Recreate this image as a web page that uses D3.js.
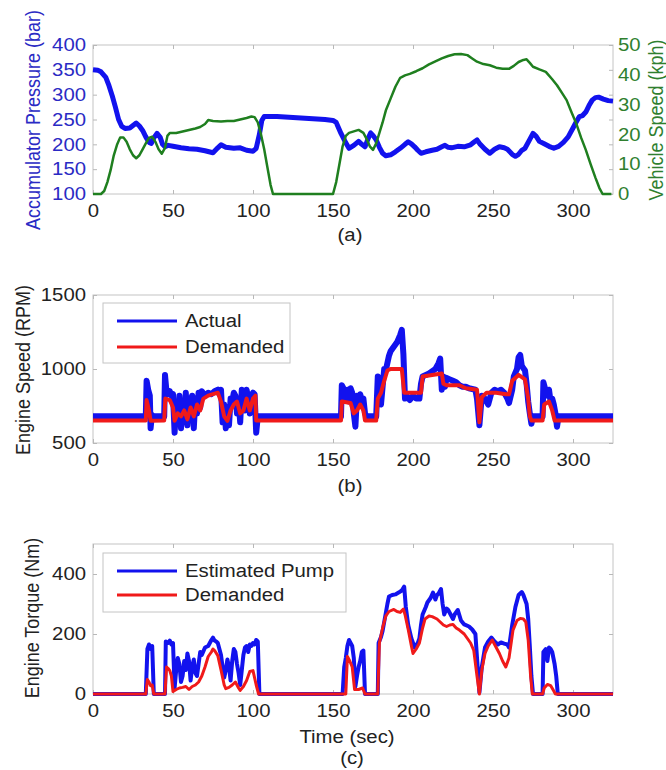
<!DOCTYPE html>
<html>
<head>
<meta charset="utf-8">
<script src="https://cdn.jsdelivr.net/npm/d3@7"></script>
<style>
  body { margin: 0; background: #fff; }
  text { font-family: "Liberation Sans", Arial, Helvetica, sans-serif; }
</style>
</head>
<body>
<svg width="666" height="770"></svg>
<script>
// ---- data (time in sec, value) ----
var pressure = [[0,350],[3,349],[5,346],[8,335],[10,318],[12,298],[14,275],[16,250],[18,236],[20,232],[23,233],[25,238],[27,243],[29,237],[31,228],[33,215],[35,204],[36.5,202],[38,213],[40,222],[42,214],[43.5,200],[45,195],[47,198],[50,196],[55,193],[60,191],[65,190],[70,187],[75,183],[78,193],[80,199],[83,194],[88,192],[92,193],[96,188],[100,186],[102,192],[104,220],[105.5,248],[107,256],[115,256],[125,254],[135,252],[145,250],[150,248],[152,244],[155,222],[158,203],[160,192],[163,198],[166,206],[168,200],[170,195],[172,212],[173.5,223],[175,218],[177,209],[179,194],[181,182],[183,177],[186,179],[189,185],[192,192],[195,200],[197,205],[199,201],[201,195],[203,188],[205,182],[208,185],[212,188],[215,190],[218,195],[220,198],[222,194],[224,193],[228,196],[232,195],[236,199],[238,204],[240,209],[242,200],[245,190],[248,182],[251,190],[254,195],[257,193],[259,190],[262,180],[264,176],[266,180],[268,188],[270,192],[273,210],[275,222],[277,216],[279,206],[282,201],[285,196],[288,192],[291,196],[294,204],[297,215],[300,233],[302,245],[304,256],[306,258],[308,265],[310,278],[312,289],[314,294],[316,295],[319,291],[322,288],[325,287]];

var vehicleSpeed = [[0,0],[5,0],[7,1],[9,4],[11,8],[13,13],[15,16.5],[17,19],[19,19],[21,17.5],[23,15],[25,13],[27,12],[29,13],[31,15],[33,17],[35,18.8],[37,19.2],[39,17.5],[41,15],[43,13.5],[45,15.5],[46.5,19.5],[48,20.5],[52,20.5],[56,21],[60,21.5],[64,22],[67,22.5],[70,23.5],[72,24.8],[75,24.5],[80,24.3],[84,24.5],[88,24.5],[92,25],[96,25.5],[99,26],[101,25.8],[103,24],[105,20],[107,15],[109,9],[111,3],[112.5,0],[150,0],[152,4],[154,10],[156,16],[158,19.5],[160,20.5],[163,21],[166,21.5],[169,20.5],[171,18.5],[173,16],[175,14.8],[177,17],[179,20.5],[181,24],[183,28],[186,32],[189,36],[192,39],[195,39.8],[198,40.3],[202,41.2],[206,42.2],[210,43.5],[214,44.5],[218,45.5],[222,46.3],[226,46.9],[230,47],[234,46.6],[237,45.5],[240,44.4],[244,43.6],[248,43.2],[252,42.4],[256,42],[260,42],[263,43],[266,44.3],[269,45],[271,45.2],[273,44],[275,42.7],[279,41.8],[283,41],[287,38.5],[290,36.5],[293,34],[296,31.5],[299,27.5],[302,23.7],[305,19],[308,14.8],[311,10],[314,5.5],[316.5,2],[318.5,0],[324,0]];

var rpmActual = [[0,680],[33,680],[33.5,920],[34.5,860],[35.5,820],[36,600],[36.8,690],[37.5,680],[44.5,680],[45,960],[46,840],[47,830],[48,850],[49,820],[50,830],[51,570],[52,760],[53,640],[54,820],[55,600],[56,780],[57,640],[58,840],[59,620],[60,800],[61,660],[62,820],[63,600],[64,800],[65,700],[66,840],[67,740],[68,850],[70,820],[72,840],[74,830],[76,850],[78,860],[79,830],[80,860],[81,640],[82,760],[83,600],[84,740],[85,620],[86,800],[87,780],[88,840],[89,820],[90,700],[91,780],[92,640],[93,860],[94,850],[95,720],[96,860],[97,800],[98,700],[99,820],[100,840],[101,830],[102,570],[103,680],[155,680],[155.5,890],[157,860],[158,800],[159,860],[160,780],[161,870],[162,840],[163,700],[164,610],[165,820],[166,760],[167,830],[168,790],[169,800],[170,700],[171,680],[177,680],[178,950],[179,800],[180,760],[181,880],[182,1000],[183,990],[185,1090],[186,1120],[188,1150],[190,1180],[192,1230],[193,1265],[194,1100],[195,800],[196,820],[198,790],[200,820],[202,800],[204,800],[205,900],[206,950],[208,960],[210,970],[212,985],[214,1000],[216,1040],[217,1070],[218,860],[219,950],[220,880],[221,940],[223,930],[225,920],[227,910],[229,890],[231,880],[233,880],[235,870],[237,865],[239,860],[240,800],[241.5,620],[243,820],[245,800],[247,760],[249,840],[251,860],[253,850],[255,860],[257,840],[259,800],[260,770],[262,860],[263,950],[265,1000],[266,1080],[267,1095],[268,1020],[270,990],[271,900],[272,780],[273,700],[274,630],[275,680],[281,680],[281.5,910],[283,850],[284,820],[285,860],[286,780],[287,800],[288,760],[289,700],[290,610],[291,680],[325,680]];

var rpmDemanded = [[0,652],[33,652],[33.5,790],[35,720],[36,650],[44.5,652],[45.2,800],[48,790],[50,740],[51,650],[53,700],[55,680],[57,720],[59,660],[61,740],[63,680],[65,760],[67,720],[69,800],[72,820],[75,830],[78,840],[80,780],[82,680],[84,650],[86,720],[88,760],[90,780],[92,700],[94,720],[96,800],[98,720],[100,800],[101.5,820],[102,652],[155,652],[155.5,780],[161,770],[163,700],[165,720],[167,760],[169,720],[170,652],[177,652],[178,800],[180,840],[182,920],[184,990],[186,1000],[193,1000],[194.5,840],[205,840],[206,950],[218,970],[219,900],[221,890],[229,890],[233,870],[240,860],[241.5,640],[243,810],[246,840],[252,840],[258,830],[260,830],[262,920],[266,960],[270,930],[272,800],[273,680],[274,652],[281,652],[282,760],[285,780],[287,720],[288.5,652],[325,652]];

var torquePump = [[0,0],[33,0],[34,150],[35,165],[36,150],[37,160],[38,0],[45,0],[45.5,175],[47,170],[48,178],[49,165],[50,170],[51,20],[52,80],[53,120],[54,100],[55,40],[56,60],[57,110],[58,80],[59,135],[60,110],[61,45],[62,90],[63,115],[64,70],[65,60],[66,100],[67,140],[68,130],[70,155],[72,160],[73,170],[74,180],[75,188],[76,178],[77,175],[78,170],[79,150],[80,130],[81,90],[82,55],[83,80],[84,115],[85,90],[86,45],[87,110],[88,150],[89,140],[90,100],[91,70],[92,30],[93,80],[94,130],[95,155],[96,160],[97,140],[98,165],[99,160],[100,170],[101,165],[102,180],[103,175],[104,0],[156,0],[157,90],[158,120],[159,160],[160,180],[161,170],[162,160],[163,120],[164,25],[165,60],[166,90],[167,110],[168,140],[169,145],[170,0],[178,0],[178.5,170],[180,190],[181,210],[182,240],[183,270],[184,300],[185,325],[187,330],[189,332],[191,338],[193,345],[194.5,358],[195.5,290],[197,230],[199,185],[201,155],[203,170],[204,185],[205,230],[206,265],[208,290],[209,305],[211,320],[212.5,338],[214,315],[215,330],[216,335],[217.5,350],[218.5,300],[219.5,265],[221,285],[222,280],[224,260],[225,250],[226,265],[228,280],[230,245],[232,232],[235,225],[237,215],[239,200],[240,120],[241.5,5],[243,90],[245,155],[247,175],[249,188],[251,175],[253,165],[255,172],[257,168],[259,165],[260,155],[262,230],[264,290],[266,330],[268,340],[269,330],[271,300],[272,250],[273,160],[274,60],[275,0],[281,0],[281.5,140],[283,150],[284,110],[285,155],[286,150],[287,140],[288.5,100],[289.5,60],[290.5,0],[325,0]];

var torqueDemanded = [[0,0],[33,0],[34,48],[35,40],[36,28],[37,30],[38,0],[45,0],[46,90],[47,85],[48,78],[49,60],[50,8],[52,15],[54,20],[56,22],[58,25],[60,15],[62,25],[64,30],[66,40],[68,60],[70,90],[72,125],[74,140],[75,150],[76,145],[78,128],[80,80],[82,30],[83,18],[85,22],[87,30],[89,40],[91,20],[92,12],[94,25],[96,45],[98,75],[100,78],[102,30],[103.5,0],[158,0],[159,125],[160.5,110],[162,90],[163.5,15],[166,15],[168.5,20],[170,0],[178,0],[179,170],[181,220],[183,260],[185,275],[188,282],[190,275],[192,272],[194,283],[195,265],[197,215],[199,160],[200,135],[202,150],[204,170],[206,220],[207.5,250],[210,260],[212,258],[215,250],[217,240],[219,230],[221,225],[223,230],[225,232],[227,220],[229,213],[232,200],[234,185],[236,170],[238,145],[240,60],[241.5,0],[243,80],[245,135],[247,160],[249.5,180],[252,155],[254,135],[256,110],[258,90],[260,120],[262.5,213],[265,245],[267,252],[269,250],[270.5,240],[272,180],[273.5,60],[274.6,0],[281,0],[282,20],[284,32],[286,28],[288,10],[289,0],[325,0]];

var timeTicks = [0, 50, 100, 150, 200, 250, 300];
var pressureTicks = [100, 150, 200, 250, 300, 350, 400];
var speedTicks = [0, 10, 20, 30, 40, 50];
var rpmTicks = [500, 1000, 1500];
var torqueTicks = [0, 200, 400];

// ---- layout ----
var fs = 18, sx = 1.13;
var blue = '#1212ee', red = '#f01a1a', green = '#1f7f1f';
var blueText = '#2a2ac4', greenText = '#2f7f2f';
var fmt = d3.format('d');
var svg = d3.select('svg');

var x = d3.scaleLinear().domain([0, 325]).range([93, 613]);

function styleText(sel, color) {
  sel.style('font-size', fs + 'px').attr('fill', color);
}

function panel(top, bottom, y, yTicks, tickColor) {
  svg.append('rect')
    .attr('x', x.range()[0]).attr('y', top)
    .attr('width', x.range()[1] - x.range()[0]).attr('height', bottom - top)
    .attr('fill', 'none').attr('stroke', '#c4c4c4').attr('stroke-width', 1);

  var gb = svg.append('g').attr('transform', 'translate(0,' + bottom + ')')
    .call(d3.axisBottom(x).tickValues(timeTicks).tickSize(-4).tickSizeOuter(0).tickFormat(fmt));
  var gt = svg.append('g').attr('transform', 'translate(0,' + top + ')')
    .call(d3.axisTop(x).tickValues(timeTicks).tickSize(-4).tickSizeOuter(0).tickFormat(''));
  var gl = svg.append('g').attr('transform', 'translate(' + x.range()[0] + ',0)')
    .call(d3.axisLeft(y).tickValues(yTicks).tickSize(-4).tickSizeOuter(0).tickFormat(fmt));
  var gr = svg.append('g').attr('transform', 'translate(' + x.range()[1] + ',0)')
    .call(d3.axisRight(y).tickValues(yTicks).tickSize(-4).tickSizeOuter(0).tickFormat(''));

  [gb, gt, gl, gr].forEach(g => {
    g.attr('font-size', null).attr('font-family', null);
    g.select('.domain').remove();
    g.selectAll('line').attr('stroke', '#b8b8b8');
  });
  gb.selectAll('text').attr('y', 23).attr('dy', 0)
    .attr('transform', 'scale(' + sx + ',1)').call(styleText, '#222');
  gl.selectAll('text').attr('x', -7 / sx)
    .attr('transform', 'scale(' + sx + ',1)').call(styleText, tickColor);
}

function label(text, cx, cy, color, rotate) {
  svg.append('text')
    .attr('transform', 'translate(' + cx + ',' + cy + ') scale(' + sx + ',1)' + (rotate ? ' rotate(-90)' : ''))
    .attr('text-anchor', 'middle')
    .attr('dy', rotate ? '0.35em' : 0)
    .style('font-size', fs + 'px')
    .attr('fill', color)
    .text(text);
}

function drawLine(data, y, color, width) {
  svg.append('path')
    .datum(data)
    .attr('d', d3.line().x(d => x(d[0])).y(d => y(d[1])))
    .attr('fill', 'none')
    .attr('stroke', color)
    .attr('stroke-width', width)
    .attr('stroke-linejoin', 'round');
}

function legend(x0, y0, x1, y1, items) {
  svg.append('rect')
    .attr('x', x0).attr('y', y0).attr('width', x1 - x0).attr('height', y1 - y0)
    .attr('fill', '#fff').attr('stroke', '#c4c4c4');
  items.forEach(it => {
    svg.append('line')
      .attr('x1', 117).attr('x2', 177).attr('y1', it.y).attr('y2', it.y)
      .attr('stroke', it.color).attr('stroke-width', 3);
    svg.append('text')
      .attr('transform', 'translate(185,' + it.y + ') scale(' + sx + ',1)')
      .attr('dy', '0.35em')
      .style('font-size', fs + 'px')
      .attr('fill', '#222')
      .text(it.text);
  });
}

// ---- (a) accumulator pressure / vehicle speed ----
var yP = d3.scaleLinear().domain([100, 400]).range([194, 45]);
var yV = d3.scaleLinear().domain([0, 50]).range([194, 45]);
panel(45, 194, yP, pressureTicks, blueText);
var gv = svg.append('g').attr('transform', 'translate(613,0)')
  .call(d3.axisRight(yV).tickValues(speedTicks).tickSize(0).tickSizeOuter(0));
gv.attr('font-size', null).attr('font-family', null);
gv.select('.domain').remove();
gv.selectAll('text').attr('x', 5 / sx).attr('transform', 'scale(' + sx + ',1)').call(styleText, greenText);

drawLine(pressure, yP, blue, 5);
drawLine(vehicleSpeed, yV, green, 2.5);
label('Accumulator Pressure (bar)', 33, 120, blueText, true);
label('Vehicle Speed (kph)', 656, 120, greenText, true);
label('(a)', 350, 241, '#222', false);

// ---- (b) engine speed ----
var yR = d3.scaleLinear().domain([500, 1500]).range([443, 295]);
panel(295, 443, yR, rpmTicks, '#222');
drawLine(rpmActual, yR, blue, 6);
drawLine(rpmDemanded, yR, red, 4);
legend(103, 303, 290, 363, [
  {text: 'Actual', color: blue, y: 321},
  {text: 'Demanded', color: red, y: 347}
]);
label('Engine Speed (RPM)', 23, 370, '#222', true);
label('(b)', 350, 492, '#222', false);

// ---- (c) engine torque ----
var yT = d3.scaleLinear().domain([0, 500]).range([694, 544]);
panel(544, 694, yT, torqueTicks, '#222');
drawLine(torquePump, yT, blue, 4);
drawLine(torqueDemanded, yT, red, 3);
legend(103, 553, 346, 612, [
  {text: 'Estimated Pump', color: blue, y: 571},
  {text: 'Demanded', color: red, y: 595}
]);
label('Engine Torque (Nm)', 32, 618, '#222', true);
label('Time (sec)', 347, 743, '#222', false);
label('(c)', 352, 764, '#222', false);
</script>
</body>
</html>
